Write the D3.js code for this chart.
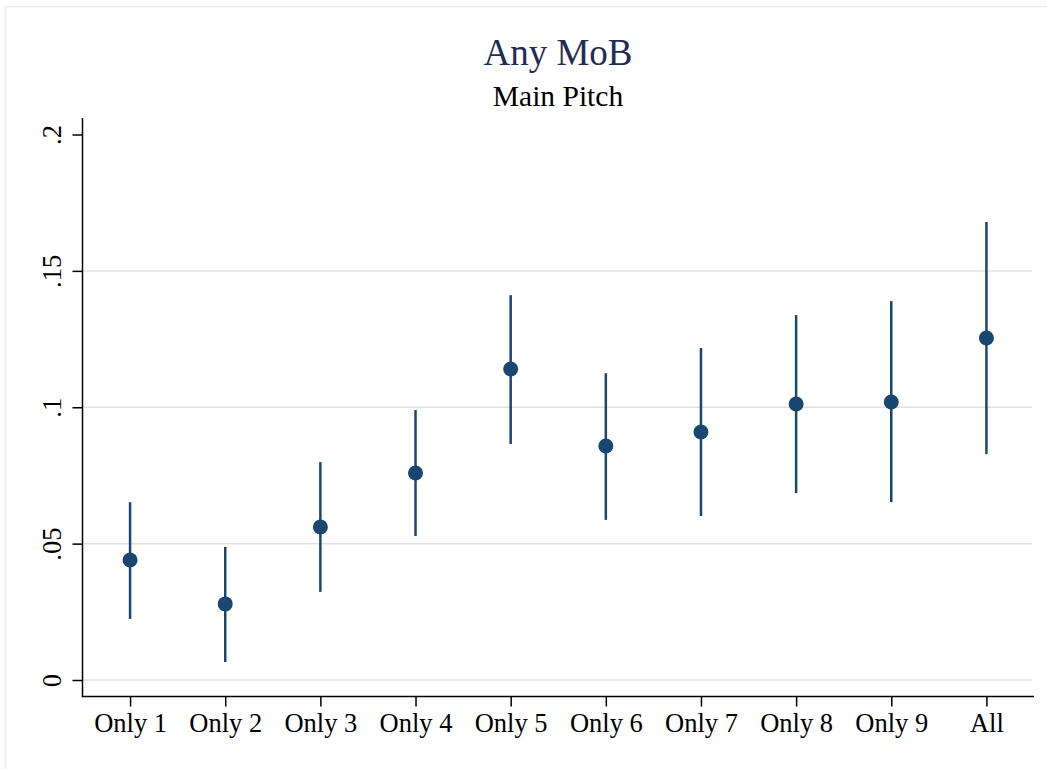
<!DOCTYPE html>
<html>
<head>
<meta charset="utf-8">
<script src="https://cdn.jsdelivr.net/npm/d3@7"></script>
<style>
  html, body { margin: 0; padding: 0; background: #fff; }
  svg { display: block; }
</style>
</head>
<body>
<script>
const categories = ["Only 1","Only 2","Only 3","Only 4","Only 5","Only 6","Only 7","Only 8","Only 9","All"];
const estimates  = [0.0440, 0.0279, 0.0561, 0.0759, 0.1140, 0.0858, 0.0909, 0.1012, 0.1019, 0.1254];
const ciLower    = [0.0224, 0.0066, 0.0323, 0.0528, 0.0865, 0.0587, 0.0601, 0.0685, 0.0652, 0.0828];
const ciUpper    = [0.0652, 0.0488, 0.0799, 0.0990, 0.1411, 0.1125, 0.1217, 0.1338, 0.1389, 0.1679];
const yTicks     = [0, 0.05, 0.1, 0.15, 0.2];
const yTickLabels = ["0", ".05", ".1", ".15", ".2"];
const gridTicks  = [0, 0.05, 0.1, 0.15];
const titleText = "Any MoB";
const subtitleText = "Main Pitch";

const W = 1047, H = 769;
const plotLeft = 82.5, plotRight = 1034, plotTop = 118, plotBottom = 696.5;
const navy = "#1a476f";
const font = "'Liberation Serif', 'Times New Roman', serif";

const svg = d3.select("body").append("svg").attr("width", W).attr("height", H);

// outer frame
svg.append("rect").attr("x", 5.5).attr("y", 6.5).attr("width", W + 10).attr("height", H + 10)
  .attr("fill", "#fff").attr("stroke", "#e8eef0").attr("stroke-width", 1.5);

const x = d3.scalePoint().domain(categories).range([plotLeft, plotRight]).padding(0.5);
const y = d3.scaleLinear().domain([0, 0.2]).range([680, 134.5]);

// gridlines
svg.append("g").selectAll("line").data(gridTicks).join("line")
  .attr("x1", plotLeft + 1).attr("x2", 1032)
  .attr("y1", d => y(d)).attr("y2", d => y(d))
  .attr("stroke", "#e2e2e2").attr("stroke-width", 1.5);

// y axis
const yAxis = d3.axisLeft(y).tickValues(yTicks).tickSize(10).tickSizeOuter(0)
  .tickFormat((d, i) => yTickLabels[i]);
const gy = svg.append("g").attr("transform", `translate(${plotLeft},0)`).call(yAxis);
gy.select(".domain").remove();
gy.append("line").attr("x1", 0).attr("x2", 0).attr("y1", plotTop).attr("y2", plotBottom)
  .attr("stroke", "#000").attr("stroke-width", 1.5);
gy.selectAll(".tick line").attr("stroke", "#000").attr("stroke-width", 1.5);
gy.selectAll(".tick text")
  .attr("x", null).attr("dy", null)
  .attr("transform", "translate(-22,0) rotate(-90)")
  .attr("text-anchor", "middle")
  .attr("font-family", font).attr("font-size", 26.5).attr("fill", "#000");

// x axis
const xAxis = d3.axisBottom(x).tickSize(10).tickSizeOuter(0);
const gx = svg.append("g").attr("transform", `translate(0,${plotBottom})`).call(xAxis);
gx.select(".domain").remove();
gx.append("line").attr("x1", plotLeft - 0.75).attr("x2", plotRight).attr("y1", 0).attr("y2", 0)
  .attr("stroke", "#000").attr("stroke-width", 1.5);
gx.selectAll(".tick line").attr("stroke", "#000").attr("stroke-width", 1.5);
gx.selectAll(".tick text")
  .attr("y", 35.5).attr("dy", null)
  .attr("font-family", font).attr("font-size", 26.5).attr("fill", "#000");

// confidence intervals
const data = categories.map((c, i) => ({c, est: estimates[i], lo: ciLower[i], hi: ciUpper[i]}));
svg.append("g").selectAll("line").data(data).join("line")
  .attr("x1", d => x(d.c)).attr("x2", d => x(d.c))
  .attr("y1", d => y(d.lo)).attr("y2", d => y(d.hi))
  .attr("stroke", navy).attr("stroke-width", 2.5);

// points
svg.append("g").selectAll("circle").data(data).join("circle")
  .attr("cx", d => x(d.c)).attr("cy", d => y(d.est)).attr("r", 7.5)
  .attr("fill", navy);

// titles
svg.append("text").attr("x", 558).attr("y", 65).attr("text-anchor", "middle")
  .attr("font-family", font).attr("font-size", 37).attr("fill", "#1f2d55").text(titleText);
svg.append("text").attr("x", 558).attr("y", 106).attr("text-anchor", "middle")
  .attr("font-family", font).attr("font-size", 29.5).attr("fill", "#000").text(subtitleText);
</script>
</body>
</html>
